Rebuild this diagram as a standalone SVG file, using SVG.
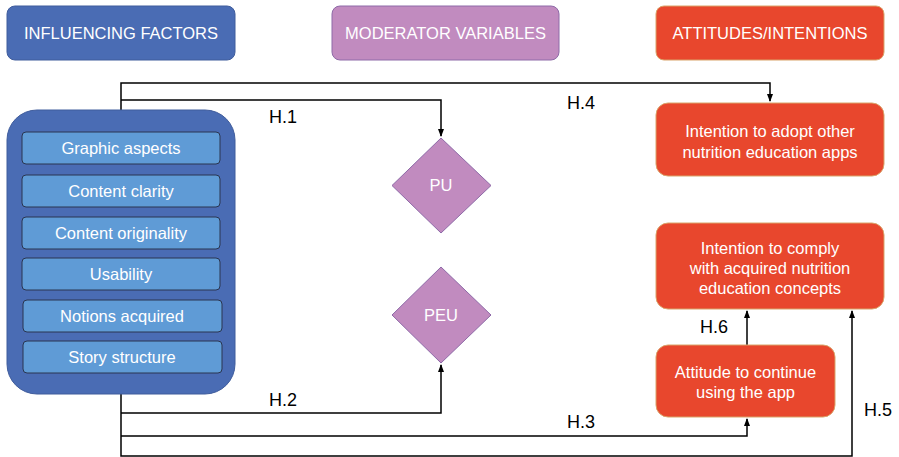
<svg xmlns="http://www.w3.org/2000/svg" width="899" height="457" viewBox="0 0 899 457">
<defs>
<marker id="ah" markerWidth="8" markerHeight="8" refX="7" refY="4" orient="auto" markerUnits="userSpaceOnUse">
<path d="M0,1 L8,4 L0,7 Z" fill="#000"/>
</marker>
<style>
text{font-family:"Liberation Sans",Arial,sans-serif;}
.w{fill:#fff;font-size:16.5px;text-anchor:middle;}
.lbl{fill:#000;font-size:18px;text-anchor:middle;}
.blue{fill:#4A6CB4;stroke:#3F5C9C;stroke-width:1;}
.inner{fill:#5F9BD6;stroke:#2A3550;stroke-width:1;}
.purple{fill:#C18BBF;stroke:#8E6AA8;stroke-width:1;}
.red{fill:#E8472D;stroke:#D9A46A;stroke-width:1;}
.ln{fill:none;stroke:#000;stroke-width:1.5;}
</style>
</defs>
<g id="hdr-influencing"><rect class="blue" x="7" y="6" width="228" height="54" rx="8"/><text class="w" x="121" y="39">INFLUENCING FACTORS</text></g>
<g id="hdr-moderator"><rect class="purple" x="332" y="6" width="227" height="54" rx="8"/><text class="w" x="445.5" y="39">MODERATOR VARIABLES</text></g>
<g id="hdr-attitudes"><rect class="red" x="656" y="6" width="228" height="54" rx="8"/><text class="w" x="770" y="39">ATTITUDES/INTENTIONS</text></g>

<g id="connectors">
<polyline class="ln" points="121,110 121,83 770,83 770,101" marker-end="url(#ah)"/>
<polyline class="ln" points="121,100 441,100 441,136" marker-end="url(#ah)"/>
<polyline class="ln" points="121,394 121,456 852,456 852,311" marker-end="url(#ah)"/>
<polyline class="ln" points="121,413 441,413 441,365" marker-end="url(#ah)"/>
<polyline class="ln" points="121,436 747,436 747,419" marker-end="url(#ah)"/>
<polyline class="ln" points="747,345 747,311" marker-end="url(#ah)"/>
</g>

<g id="factors">
<rect class="blue" x="7" y="110" width="228" height="284" rx="30"/>
<g id="f1"><rect class="inner" x="22" y="132" width="198" height="32" rx="4"/><text class="w" x="121" y="154">Graphic aspects</text></g>
<g id="f2"><rect class="inner" x="22" y="175" width="198" height="32" rx="4"/><text class="w" x="121" y="197">Content clarity</text></g>
<g id="f3"><rect class="inner" x="22" y="217" width="198" height="32" rx="4"/><text class="w" x="121" y="239">Content originality</text></g>
<g id="f4"><rect class="inner" x="22" y="258" width="198" height="32" rx="4"/><text class="w" x="121" y="280">Usability</text></g>
<g id="f5"><rect class="inner" x="23" y="300" width="199" height="32" rx="4"/><text class="w" x="122" y="322">Notions acquired</text></g>
<g id="f6"><rect class="inner" x="23" y="341" width="199" height="32" rx="4"/><text class="w" x="122" y="363">Story structure</text></g>
</g>

<g id="pu"><polygon class="purple" points="441,138 491,185.5 441,233 392,185.5"/><text class="w" x="441" y="191">PU</text></g>
<g id="peu"><polygon class="purple" points="441,267 491,315 441,363 392,315"/><text class="w" x="441" y="321">PEU</text></g>

<g id="adopt"><rect class="red" x="656" y="103" width="228" height="73" rx="12"/><text class="w" x="770" y="137">Intention to adopt other</text><text class="w" x="770" y="158">nutrition education apps</text></g>
<g id="comply"><rect class="red" x="656" y="223" width="228" height="86" rx="12"/><text class="w" x="770" y="254">Intention to comply</text><text class="w" x="770" y="274">with acquired nutrition</text><text class="w" x="770" y="294">education concepts</text></g>
<g id="attitude"><rect class="red" x="656" y="345" width="179" height="72" rx="12"/><text class="w" x="745.5" y="378">Attitude to continue</text><text class="w" x="745.5" y="398">using the app</text></g>

<g id="labels">
<text class="lbl" x="283" y="123">H.1</text>
<text class="lbl" x="581" y="109">H.4</text>
<text class="lbl" x="283" y="406">H.2</text>
<text class="lbl" x="581" y="428">H.3</text>
<text class="lbl" x="714" y="333">H.6</text>
<text class="lbl" x="878" y="416">H.5</text>
</g>
</svg>
